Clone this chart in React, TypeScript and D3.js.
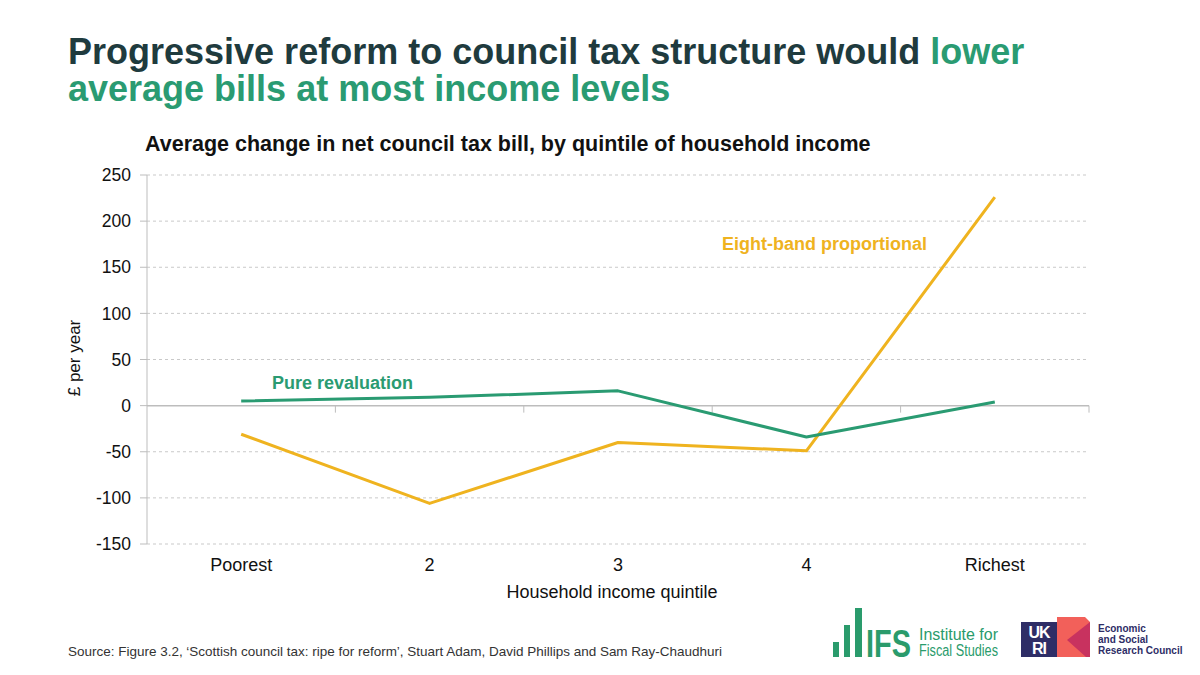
import React from 'react';
import * as d3 from 'd3';

const quintiles = ['Poorest', '2', '3', '4', 'Richest'];
const pureRevaluation = [5, 9, 16, -34, 4];
const eightBand = [-31, -106, -40, -49, 226];
const yTicks = [-150, -100, -50, 0, 50, 100, 150, 200, 250];

const green = '#2a9b72';
const yellow = '#efb31f';
const dark = '#1f3b3e';
const grid = '#c9c9c9';
const font = '"Liberation Sans", Arial, sans-serif';
const narrow = '"Liberation Sans Narrow", "Arial Narrow", ' + font;

const App = () => {
  const width = 1200;
  const height = 675;

  const x = d3.scaleBand<string>().domain(quintiles).range([147, 1089]).padding(0);
  const y = d3.scaleLinear().domain([-150, 250]).range([544, 175]);
  const cx = (q: string) => (x(q) || 0) + x.bandwidth() / 2;

  const line = d3
    .line<number>()
    .x((_, i) => cx(quintiles[i]))
    .y((d) => y(d));

  const boundaries = quintiles.map((q) => x(q) || 0).concat([x.range()[1]]);

  return (
    <svg
      width={width}
      height={height}
      style={{ position: 'absolute', left: 0, top: 0, background: '#fff' }}
      fontFamily={font}
    >
      <rect width={width} height={height} fill="#fff" />

      {/* titel */}
      <text x={68} y={64} fontSize={36} fontWeight="bold" fill={dark}>
        Progressive reform to council tax structure would <tspan fill={green}>lower</tspan>
      </text>
      <text x={68} y={101} fontSize={36} fontWeight="bold" fill={green}>
        average bills at most income levels
      </text>
      <text x={145} y={151} fontSize={21.5} fontWeight="bold" fill="#111">
        Average change in net council tax bill, by quintile of household income
      </text>

      {/* raster en y-as */}
      {yTicks.map((t) => (
        <g key={t}>
          <line
            x1={x.range()[0]}
            x2={x.range()[1]}
            y1={y(t)}
            y2={y(t)}
            stroke={t === 0 ? '#bdbdbd' : grid}
            strokeWidth={t === 0 ? 1.5 : 1}
            strokeDasharray={t === 0 ? undefined : '3,3'}
          />
          <line x1={140} x2={x.range()[0]} y1={y(t)} y2={y(t)} stroke="#bdbdbd" />
          <text x={131} y={y(t)} dy="0.35em" textAnchor="end" fontSize={17.5} fill="#111">
            {t}
          </text>
        </g>
      ))}
      <line x1={x.range()[0]} x2={x.range()[0]} y1={y(250)} y2={y(-150)} stroke="#bdbdbd" />
      {boundaries.slice(1).map((b, i) => (
        <line key={i} x1={b} x2={b} y1={y(0)} y2={y(0) + 7} stroke="#bdbdbd" />
      ))}

      {/* x-as */}
      {quintiles.map((q) => (
        <text key={q} x={cx(q)} y={571} textAnchor="middle" fontSize={18} fill="#111">
          {q}
        </text>
      ))}
      <text x={612} y={598} textAnchor="middle" fontSize={18} fill="#111">
        Household income quintile
      </text>
      <text transform="translate(80,358) rotate(-90)" textAnchor="middle" fontSize={17} fill="#111">
        £ per year
      </text>

      {/* lijnen */}
      <path d={line(eightBand) || ''} fill="none" stroke={yellow} strokeWidth={3} strokeLinejoin="round" />
      <path d={line(pureRevaluation) || ''} fill="none" stroke={green} strokeWidth={3} strokeLinejoin="round" />

      <text x={272} y={389} fontSize={18} fontWeight="bold" fill={green}>
        Pure revaluation
      </text>
      <text x={722} y={250} fontSize={18} fontWeight="bold" fill={yellow}>
        Eight-band proportional
      </text>

      {/* bron */}
      <text
        x={68}
        y={656}
        fontSize={13}
        fill="#333"
        fontFamily={narrow}
        textLength={654}
        lengthAdjust="spacingAndGlyphs"
      >
        Source: Figure 3.2, ‘Scottish council tax: ripe for reform’, Stuart Adam, David Phillips and Sam Ray-Chaudhuri
      </text>

      {/* IFS logo */}
      <g fill="#2a9b6c">
        <rect x={833} y={642} width={6} height={15} />
        <rect x={844} y={625} width={6} height={32} />
        <rect x={855} y={608} width={7} height={49} />
        <text x={866} y={657} fontSize={38} fontWeight="bold" fontFamily={narrow} textLength={45} lengthAdjust="spacingAndGlyphs">
          IFS
        </text>
        <text x={919} y={640} fontSize={16} fontFamily={narrow} textLength={79} lengthAdjust="spacingAndGlyphs">
          Institute for
        </text>
        <text x={919} y={656} fontSize={16} fontFamily={narrow} textLength={79} lengthAdjust="spacingAndGlyphs">
          Fiscal Studies
        </text>
      </g>

      {/* UKRI / ESRC logo */}
      <rect x={1021} y={622} width={36} height={35} fill="#2e2d66" />
      <text x={1039} y={638} textAnchor="middle" fontSize={16} fontWeight="bold" fill="#fff" letterSpacing={-1}>
        UK
      </text>
      <text x={1039} y={654} textAnchor="middle" fontSize={16} fontWeight="bold" fill="#fff" letterSpacing={-1}>
        RI
      </text>
      <polygon points="1057,617 1085,617 1090,622 1090,657 1057,657" fill="#f2605a" />
      <polygon points="1090,622 1067,640 1086,657 1090,657" fill="#c8325f" />
      <g fontSize={10} fontWeight="bold" fill="#2e2d66">
        <text x={1098} y={632}>Economic</text>
        <text x={1098} y={643}>and Social</text>
        <text x={1098} y={654}>Research Council</text>
      </g>
    </svg>
  );
};

export default App;
